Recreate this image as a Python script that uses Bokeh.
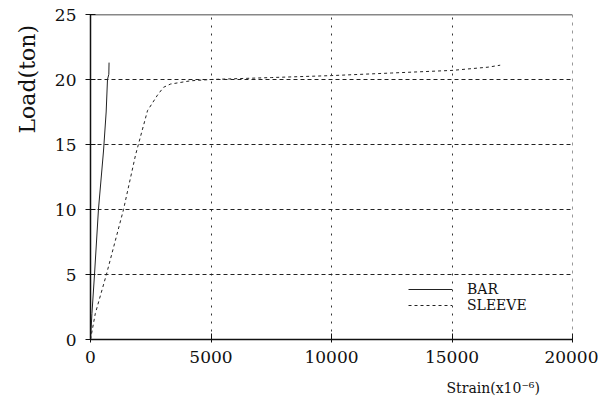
from bokeh.plotting import figure
from bokeh.models import Span, Legend, LegendItem, Range1d, Title
from bokeh.embed import file_html
from bokeh.resources import INLINE

# ---- data ----
bar_strain = [0, 60, 166, 330, 540, 650, 705, 760, 770]
bar_load = [0, 2, 5, 10, 14.5, 17.5, 20.0, 20.4, 21.3]

sleeve_strain = [0, 200, 660, 1370, 1870, 2365, 2780, 3030, 3320, 4150, 5000, 7500, 10000, 12500, 15000, 16500, 17000]
sleeve_load = [0, 2, 5, 10, 14.2, 17.6, 18.8, 19.4, 19.65, 19.9, 20.0, 20.15, 20.3, 20.5, 20.7, 20.95, 21.1]

x_ticks = [0, 5000, 10000, 15000, 20000]
y_ticks = [0, 5, 10, 15, 20, 25]

SERIF = "DejaVu Serif"

p = figure(width=598, height=407, output_backend="svg", toolbar_location=None,
           x_range=Range1d(0, 20000), y_range=Range1d(0, 25),
           min_border_left=90, min_border_right=26, min_border_top=14, min_border_bottom=68)

p.background_fill_color = "white"
p.border_fill_color = "white"
p.outline_line_color = None

# axes
p.xaxis.ticker = x_ticks
p.yaxis.ticker = y_ticks
p.xaxis.ticker.num_minor_ticks = 10
p.yaxis.ticker.num_minor_ticks = 5
for ax in (p.xaxis[0], p.yaxis[0]):
    ax.axis_line_color = "#111111"
    ax.axis_line_width = 1.5
    ax.major_tick_line_color = "#111111"
    ax.minor_tick_line_color = "#222222"
    ax.major_label_text_font = SERIF
    ax.major_label_text_font_size = "17px"
    ax.major_label_text_color = "#111111"

p.yaxis.major_tick_in = 5
p.yaxis.major_tick_out = 5
p.yaxis.minor_tick_in = 3
p.yaxis.minor_tick_out = 3
p.yaxis.major_label_standoff = 9

p.xaxis.major_tick_in = 6
p.xaxis.major_tick_out = 3
p.xaxis.minor_tick_in = 5
p.xaxis.minor_tick_out = 0
p.xaxis.major_label_standoff = 8

# grid
p.ygrid.grid_line_color = "#222222"
p.ygrid.grid_line_dash = "4 3"
p.ygrid.grid_line_width = 1
p.xgrid.grid_line_color = "#333333"
p.xgrid.grid_line_dash = "2 6"
p.xgrid.grid_line_width = 1

# borders
p.add_layout(Span(location=25, dimension="width", line_color="#111111", line_width=1.5))
p.add_layout(Span(location=20000, dimension="height", line_color="#333333", line_width=1, line_dash="3 5"))

# data lines
r_bar = p.line(bar_strain, bar_load, line_color="#222222", line_width=1)
r_sleeve = p.line(sleeve_strain, sleeve_load, line_color="#222222", line_width=1, line_dash="3 3")

legend = Legend(items=[LegendItem(label="BAR", renderers=[r_bar]),
                       LegendItem(label="SLEEVE", renderers=[r_sleeve])],
                location=(318, 26))
legend.border_line_alpha = 0
legend.background_fill_alpha = 0
legend.label_text_font = SERIF
legend.label_text_font_size = "14px"
legend.label_text_color = "#111111"
legend.glyph_width = 44
legend.glyph_height = 16
legend.label_height = 16
legend.label_standoff = 15
legend.spacing = 0
legend.padding = 0
legend.margin = 0
p.add_layout(legend)

# axis titles
p.add_layout(Title(text="Load(ton)", align="left", offset=206, standoff=24,
                   text_font=SERIF, text_font_size="22px", text_font_style="normal",
                   text_color="#111111"), "left")
p.add_layout(Title(text="Strain(x10\u207b\u2076)", align="left", offset=356, standoff=24,
                   text_font=SERIF, text_font_size="14px", text_font_style="normal",
                   text_color="#111111"), "below")

open("out.html", "w").write(file_html(p, INLINE))
